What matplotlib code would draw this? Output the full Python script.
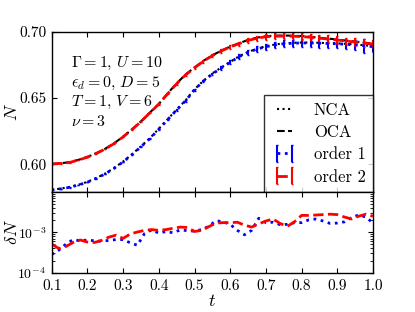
import numpy as np
import matplotlib
matplotlib.use("Agg")
import matplotlib.pyplot as plt

plt.rcParams['font.family'] = 'serif'
plt.rcParams['font.serif'] = ['cmr10', 'DejaVu Serif']
plt.rcParams['mathtext.fontset'] = 'cm'
plt.rcParams['axes.unicode_minus'] = False
plt.rcParams['axes.formatter.use_mathtext'] = True
plt.rcParams['font.size'] = 11
plt.rcParams['xtick.direction'] = 'in'
plt.rcParams['ytick.direction'] = 'in'
plt.rcParams['xtick.top'] = True
plt.rcParams['ytick.right'] = True
plt.rcParams['axes.linewidth'] = 1.0

# time grid of the N(t) curves
t = np.linspace(0.1, 1.0, 37)

N_oca = [0.6002, 0.6007, 0.6015, 0.6033, 0.6055, 0.6083, 0.6117, 0.6158, 0.6208,
         0.6263, 0.6323, 0.6390, 0.6455, 0.6535, 0.6610, 0.6677, 0.6730, 0.6780,
         0.6822, 0.6857, 0.6888, 0.6913, 0.6938, 0.6955, 0.6966, 0.6970, 0.6971,
         0.6970, 0.6967, 0.6962, 0.6955, 0.6948, 0.6941, 0.6933, 0.6926, 0.6918, 0.6910]
N_order2 = [0.6001, 0.6006, 0.6013, 0.6031, 0.6053, 0.6081, 0.6115, 0.6156, 0.6206,
            0.6261, 0.6321, 0.6388, 0.6453, 0.6532, 0.6607, 0.6674, 0.6727, 0.6777,
            0.6819, 0.6854, 0.6885, 0.6910, 0.6934, 0.6951, 0.6962, 0.6966, 0.6967,
            0.6966, 0.6963, 0.6958, 0.6951, 0.6944, 0.6937, 0.6929, 0.6922, 0.6914, 0.6906]
N_nca = [0.5806, 0.5816, 0.5828, 0.5845, 0.5867, 0.5895, 0.5930, 0.5972, 0.6020,
         0.6075, 0.6135, 0.6196, 0.6268, 0.6340, 0.6412, 0.6482, 0.6565, 0.6630,
         0.6685, 0.6730, 0.6772, 0.6815, 0.6847, 0.6872, 0.6890, 0.6903, 0.6912,
         0.6916, 0.6918, 0.6918, 0.6916, 0.6914, 0.6912, 0.6908, 0.6904, 0.6898, 0.6890]
N_order1 = [0.5805, 0.5814, 0.5825, 0.5843, 0.5864, 0.5893, 0.5927, 0.5970, 0.6017,
            0.6072, 0.6132, 0.6193, 0.6264, 0.6337, 0.6409, 0.6479, 0.6562, 0.6627,
            0.6681, 0.6726, 0.6769, 0.6812, 0.6844, 0.6869, 0.6887, 0.6900, 0.6909,
            0.6913, 0.6915, 0.6915, 0.6913, 0.6911, 0.6909, 0.6905, 0.6901, 0.6894, 0.6887]
err_order1 = [0.0001, 0.0001, 0.0001, 0.0001, 0.0001, 0.0002, 0.0002, 0.0002, 0.0003,
              0.0003, 0.0004, 0.0004, 0.0005, 0.0006, 0.0007, 0.0008, 0.0009, 0.0010,
              0.0011, 0.0013, 0.0014, 0.0016, 0.0018, 0.0020, 0.0022, 0.0024, 0.0026,
              0.0028, 0.0030, 0.0032, 0.0034, 0.0031, 0.0033, 0.0035, 0.0038, 0.0052, 0.0040]
err_order2 = [0.0001, 0.0001, 0.0001, 0.0001, 0.0001, 0.0002, 0.0002, 0.0002, 0.0003,
              0.0003, 0.0003, 0.0004, 0.0005, 0.0006, 0.0007, 0.0008, 0.0009, 0.0010,
              0.0011, 0.0012, 0.0014, 0.0015, 0.0017, 0.0019, 0.0021, 0.0022, 0.0024,
              0.0024, 0.0026, 0.0027, 0.0025, 0.0028, 0.0029, 0.0027, 0.0030, 0.0031, 0.0029]

# time grid of the deltaN curves
t_dn = np.linspace(0.1, 1.0, 46)
# deltaN in units of 1e-4
dn_order1 = [2.82, 3.63, 5.13, 6.61, 6.17, 6.46, 6.17, 6.03, 6.31, 6.61, 6.61, 5.50,
             4.79, 9.33, 11.5, 9.55, 10.5, 9.77, 11.5, 11.0, 10.7, 11.7, 14.1, 19.5,
             18.2, 15.8, 11.2, 8.71, 11.2, 22.4, 17.4, 17.8, 15.5, 15.8, 17.4, 17.4,
             20.4, 21.4, 19.1, 16.6, 17.0, 18.2, 23.4, 26.9, 24.0, 17.0]
dn_order2 = [5.13, 3.98, 4.47, 5.62, 6.46, 5.75, 5.62, 6.31, 7.59, 8.51, 7.08, 9.12,
             10.2, 11.2, 11.7, 11.2, 11.7, 12.6, 13.5, 13.2, 10.5, 11.2, 13.8, 17.0,
             17.4, 17.4, 17.8, 15.1, 13.5, 16.2, 19.1, 21.4, 16.6, 14.1, 18.2, 26.3,
             26.3, 26.9, 27.5, 28.2, 27.5, 24.0, 21.4, 25.1, 28.2, 25.1]

params = ["$\\Gamma = 1,\\, U = 10$", "$\\epsilon_d = 0,\\, D = 5$",
          "$T = 1,\\, V = 6$", "$\\nu = 3$"]

fig = plt.figure(figsize=(4.15, 3.12), dpi=100)
ax1 = fig.add_axes([0.1246, 0.3846, 0.7742, 0.5138])
ax2 = fig.add_axes([0.1246, 0.126, 0.7742, 0.2586], sharex=ax1)

ax1.plot(t, N_nca, color='k', linestyle=':', lw=1.5, label='NCA')
ax1.plot(t, N_oca, color='k', linestyle='--', lw=1.5, label='OCA')
ax1.errorbar(t, N_order1, yerr=err_order1, color='b', linestyle=':', lw=2,
             elinewidth=1.5, capsize=1, label='order 1')
ax1.errorbar(t, N_order2, yerr=err_order2, color='r', linestyle='--', lw=2,
             elinewidth=1.5, capsize=1, label='order 2')

ax1.set_xlim(0.1, 1.0)
ax1.set_ylim(0.579, 0.70)
ax1.set_yticks([0.60, 0.65, 0.70])
ax1.yaxis.set_major_formatter(matplotlib.ticker.FormatStrFormatter('%.2f'))
ax1.tick_params(labelbottom=False)
ax1.set_ylabel('$N$', fontsize=13)
ax1.yaxis.set_label_coords(-0.1, 0.5)

for i, s in enumerate(params):
    ax1.text(0.06, 0.80 - i * 0.12, s, transform=ax1.transAxes,
             fontsize=11.5, va='center', ha='left')

leg = ax1.legend(loc='lower right', borderaxespad=0, numpoints=2,
                 fancybox=False, fontsize=12, handlelength=1.5,
                 handletextpad=1.0, labelspacing=0.42, borderpad=0.45)
leg.get_frame().set_edgecolor('k')
leg.get_frame().set_linewidth(1.0)

ax2.plot(t_dn, np.array(dn_order1) * 1e-4, color='b', linestyle=':', lw=2)
ax2.plot(t_dn, np.array(dn_order2) * 1e-4, color='r', linestyle='--', lw=2)
ax2.set_yscale('log')
ax2.set_ylim(1e-4, 1e-2)
ax2.set_yticks([1e-4, 1e-3])
ax2.set_xlim(0.1, 1.0)
ax2.set_xticks(np.arange(0.1, 1.01, 0.1))
ax2.xaxis.set_major_formatter(matplotlib.ticker.FormatStrFormatter('%.1f'))
ax2.tick_params(axis='y', pad=4, labelsize=10)
ax2.tick_params(axis='x', pad=5)
ax2.set_ylabel('$\\delta N$', fontsize=13)
ax2.yaxis.set_label_coords(-0.1, 0.5)
ax2.set_xlabel('$t$', fontsize=13, labelpad=0)

fig.savefig('out.png', dpi=100)
